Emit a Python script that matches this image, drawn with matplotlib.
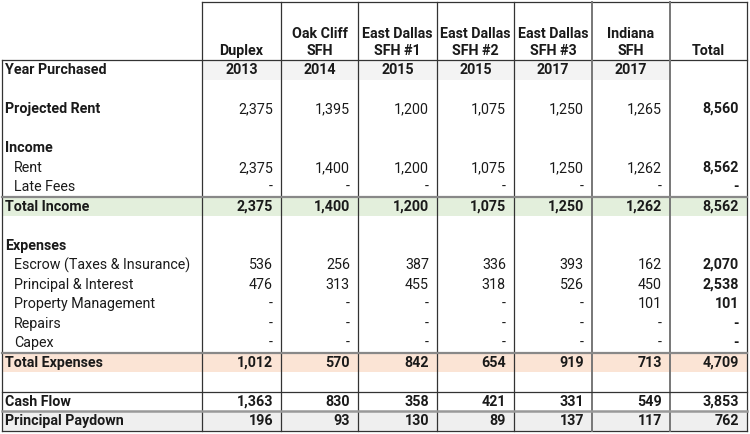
import matplotlib.pyplot as plt

plt.rcParams['font.family'] = ['Roboto', 'DejaVu Sans']

# Columnas de la tabla
columnas = ['Duplex', 'Oak Cliff\nSFH', 'East Dallas\nSFH #1', 'East Dallas\nSFH #2',
            'East Dallas\nSFH #3', 'Indiana\nSFH', 'Total']
anios = ['2013', '2014', '2015', '2015', '2017', '2017']

# Valores (None = "-")
renta_proyectada = [2375, 1395, 1200, 1075, 1250, 1265, 8560]
renta = [2375, 1400, 1200, 1075, 1250, 1262, 8562]
late_fees = [None, None, None, None, None, None, None]
total_income = [2375, 1400, 1200, 1075, 1250, 1262, 8562]
escrow = [536, 256, 387, 336, 393, 162, 2070]
principal_interest = [476, 313, 455, 318, 526, 450, 2538]
property_mgmt = [None, None, None, None, None, 101, 101]
repairs = [None, None, None, None, None, None, None]
capex = [None, None, None, None, None, None, None]
total_expenses = [1012, 570, 842, 654, 919, 713, 4709]
cash_flow = [1363, 830, 358, 421, 331, 549, 3853]
principal_paydown = [196, 93, 130, 89, 137, 117, 762]

# (etiqueta, valores, tipo)
filas = [
    ('Year Purchased', anios, 'year'),
    ('', None, 'blank'),
    ('Projected Rent', renta_proyectada, 'head'),
    ('', None, 'blank'),
    ('Income', None, 'section'),
    ('Rent', renta, 'item'),
    ('Late Fees', late_fees, 'item'),
    ('Total Income', total_income, 'total'),
    ('', None, 'blank'),
    ('Expenses', None, 'section'),
    ('Escrow (Taxes & Insurance)', escrow, 'item'),
    ('Principal & Interest', principal_interest, 'item'),
    ('Property Management', property_mgmt, 'item'),
    ('Repairs', repairs, 'item'),
    ('Capex', capex, 'item'),
    ('Total Expenses', total_expenses, 'total'),
    ('', None, 'blank'),
    ('Cash Flow', cash_flow, 'total'),
    ('Principal Paydown', principal_paydown, 'total'),
]

col_x = [202, 281, 358, 437, 514, 592, 670, 747]
x_izq = 2
y_top = 60
alto = 19.5
fs = 10.3

fig = plt.figure(figsize=(7.5, 4.34), dpi=100)
ax = fig.add_axes([0, 0, 1, 1])
ax.set_xlim(0, 750)
ax.set_ylim(434, 0)
ax.axis('off')

# Fondos
fondos = {'Year Purchased': ('#f3f3f3', col_x[0], col_x[6]),
          'Total Income': ('#e3efdc', x_izq, col_x[-1]),
          'Total Expenses': ('#fbe4d5', x_izq, col_x[-1]),
          'Principal Paydown': ('#efefef', x_izq, col_x[-1])}
for i, (nombre, vals, tipo) in enumerate(filas):
    if nombre in fondos:
        c, x0, x1 = fondos[nombre]
        ax.fill_between([x0, x1], y_top + i * alto, y_top + (i + 1) * alto, color=c, lw=0, zorder=0)

# Encabezados
for j, col in enumerate(columnas):
    xc = (col_x[j] + col_x[j + 1]) / 2
    ax.text(xc, 58, col, ha='center', va='bottom', fontsize=fs, fontweight='bold',
            linespacing=1.3, color='#1a1a1a')


def fmt(v):
    if v is None:
        return '-'
    return f'{v:,}'


# va='top' para que las comas no muevan la linea base
for i, (nombre, vals, tipo) in enumerate(filas):
    yc = round(y_top + (i + 0.5) * alto - 6.5)
    if nombre:
        peso = 'normal' if tipo == 'item' else 'bold'
        x_lab = 14 if tipo == 'item' else 5
        ax.text(x_lab, yc, nombre, ha='left', va='top', fontsize=fs, fontweight=peso, color='#1a1a1a')
    if vals is None:
        continue
    if tipo == 'year':
        for j, a in enumerate(vals):
            xc = (col_x[j] + col_x[j + 1]) / 2
            ax.text(xc, yc, a, ha='center', va='top', fontsize=fs, fontweight='bold', color='#1a1a1a')
        continue
    for j, v in enumerate(vals):
        es_total = j == len(vals) - 1
        peso = 'bold' if (es_total or tipo == 'total') else 'normal'
        ax.text(col_x[j + 1] - 8, yc, fmt(v), ha='right', va='top', fontsize=fs,
                fontweight=peso, color='#1a1a1a')

# Lineas
y_fin = y_top + len(filas) * alto
for k, x in enumerate(col_x):
    gris = k in (5, 6)
    ax.plot([x, x], [2, y_fin], color='#777777' if gris else '#333333',
            lw=1.4 if gris else 0.9, zorder=3)
ax.plot([col_x[0], col_x[-1]], [2, 2], color='#333333', lw=0.9)
ax.plot([x_izq, x_izq], [y_top, y_fin], color='#333333', lw=0.9)
ax.plot([x_izq, col_x[-1]], [y_top, y_top], color='#333333', lw=0.9)
ax.plot([x_izq, col_x[-1]], [y_fin, y_fin], color='#333333', lw=0.9)
for nombre, c, w in [('Total Income', '#888888', 1.6), ('Total Expenses', '#888888', 1.6),
                     ('Cash Flow', '#333333', 0.9), ('Principal Paydown', '#999999', 1.8)]:
    i = [f[0] for f in filas].index(nombre)
    ax.plot([x_izq, col_x[-1]], [y_top + i * alto] * 2, color=c, lw=w, zorder=3)

fig.savefig('out.png', dpi=100)
